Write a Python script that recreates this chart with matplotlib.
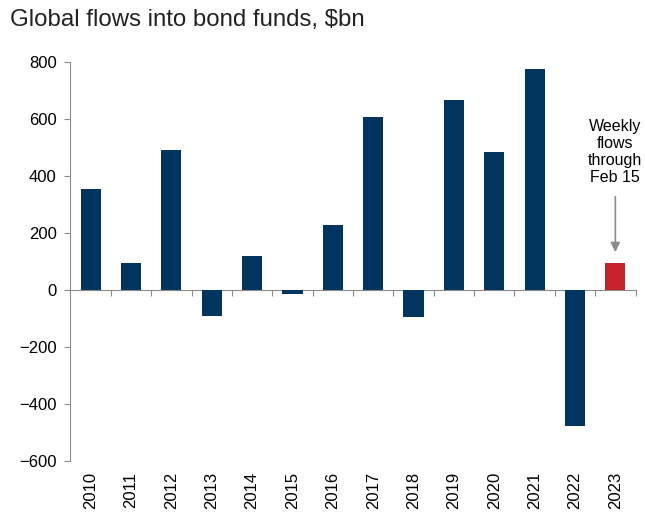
import matplotlib.pyplot as plt

# Dados (em $bn)
anos = ['2010', '2011', '2012', '2013', '2014', '2015', '2016',
        '2017', '2018', '2019', '2020', '2021', '2022', '2023']
fluxos = [354, 95, 491, -91, 119, -14, 228, 607, -95, 667, 484, 775, -477, 95]
cores = ['#00355f'] * 13 + ['#c3242b']

plt.rcParams['font.family'] = ['Liberation Sans', 'DejaVu Sans']

fig = plt.figure(figsize=(6.45, 5.13), dpi=100)
ax = fig.add_axes([0.1093, 0.1014, 0.8760, 0.7776])

x = list(range(len(anos)))
ax.bar(x, fluxos, width=0.5, color=cores, zorder=3)

ax.set_xlim(-0.5, len(anos) - 0.5)
ax.set_ylim(-600, 800)
ax.set_yticks(range(-600, 801, 200))

cinza = '#8c8c8c'
for s in ['top', 'right', 'bottom']:
    ax.spines[s].set_visible(False)
ax.spines['left'].set_color(cinza)
ax.tick_params(axis='y', colors=cinza, labelcolor='black', labelsize=12,
               length=4, direction='out', pad=6)

# rotulos dos anos embaixo
ax.set_xticks(x)
ax.set_xticklabels(anos, rotation=90, fontsize=12)
ax.tick_params(axis='x', length=0, pad=8)

# linha do zero com marcas entre categorias
eixo0 = ax.secondary_xaxis(0, transform=ax.transData)
eixo0.spines['bottom'].set_color(cinza)
eixo0.set_xticks([i + 0.5 for i in x])
eixo0.set_xticklabels([])
eixo0.tick_params(axis='x', colors=cinza, length=4, direction='out')

# anotacao 2023
ax.annotate('', xy=(13, 133), xytext=(13, 328),
            arrowprops=dict(arrowstyle='-|>', color=cinza, lw=1.2,
                            mutation_scale=14, shrinkA=0, shrinkB=0))
ax.text(13, 370, 'Weekly\nflows\nthrough\nFeb 15', ha='center', va='bottom',
        fontsize=11.5, linespacing=1.15)

fig.text(0.015, 0.961, 'Global flows into bond funds, $bn', fontsize=17.3,
         va='center', ha='left', color='#222222')

plt.savefig('out.png', dpi=100)
